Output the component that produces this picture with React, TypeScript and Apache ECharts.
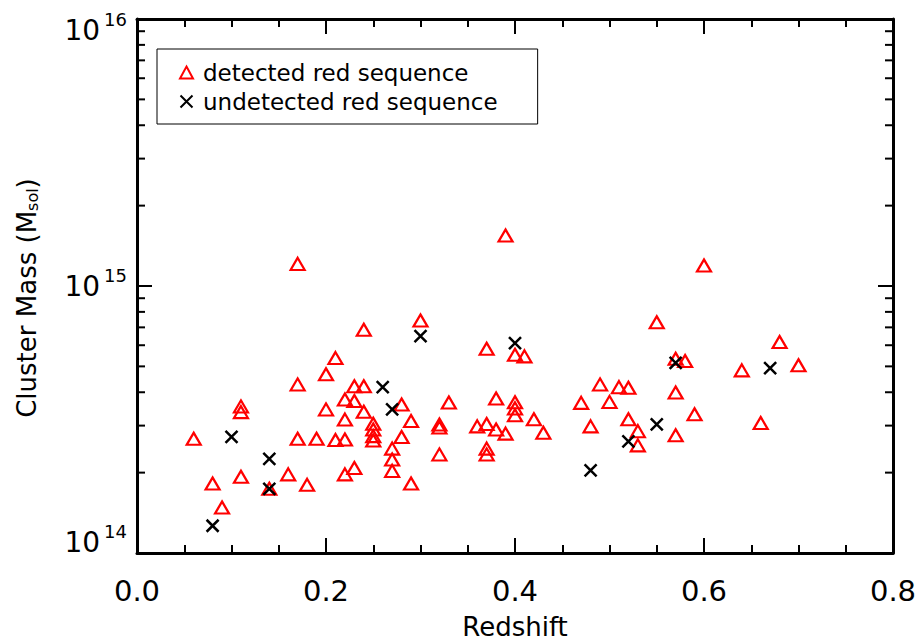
import React, { useEffect, useRef } from 'react';
import * as echarts from 'echarts';

// Redshift and cluster mass (Msol) — detected red sequence
const detectedZ = [
  0.06, 0.08, 0.09, 0.11, 0.11, 0.11, 0.17, 0.17, 0.17, 0.16,
  0.18, 0.14, 0.19, 0.20, 0.20, 0.21, 0.21, 0.22, 0.22, 0.22,
  0.22, 0.23, 0.23, 0.23, 0.24, 0.24, 0.24, 0.25, 0.25, 0.25,
  0.25, 0.39, 0.30, 0.37, 0.40, 0.41, 0.28, 0.33, 0.38, 0.40,
  0.40, 0.40, 0.29, 0.32, 0.32, 0.36, 0.37, 0.38, 0.39, 0.42,
  0.43, 0.28, 0.27, 0.27, 0.27, 0.29, 0.32, 0.37, 0.37, 0.60,
  0.55, 0.68, 0.70, 0.64, 0.57, 0.58, 0.49, 0.51, 0.52, 0.47,
  0.50, 0.57, 0.48, 0.52, 0.53, 0.53, 0.57, 0.59, 0.66,
];
const detectedMass = [
  2.68e14, 1.82e14, 1.48e14, 3.54e14, 3.37e14, 1.93e14, 1.21e15, 4.28e14, 2.68e14, 1.97e14,
  1.80e14, 1.74e14, 2.68e14, 4.67e14, 3.45e14, 5.37e14, 2.65e14, 3.76e14, 3.16e14, 2.66e14,
  1.97e14, 2.08e14, 4.21e14, 3.71e14, 6.86e14, 4.21e14, 3.38e14, 3.05e14, 2.90e14, 2.74e14,
  2.64e14, 1.545e15, 7.43e14, 5.82e14, 5.53e14, 5.45e14, 3.60e14, 3.66e14, 3.79e14, 3.67e14,
  3.48e14, 3.28e14, 3.12e14, 3.03e14, 2.95e14, 2.98e14, 3.04e14, 2.90e14, 2.80e14, 3.17e14,
  2.82e14, 2.72e14, 2.46e14, 2.24e14, 2.03e14, 1.82e14, 2.34e14, 2.46e14, 2.34e14, 1.193e15,
  7.32e14, 6.17e14, 5.05e14, 4.83e14, 5.34e14, 5.24e14, 4.28e14, 4.18e14, 4.16e14, 3.65e14,
  3.68e14, 3.99e14, 2.98e14, 3.17e14, 2.86e14, 2.53e14, 2.76e14, 3.31e14, 3.07e14,
];

// undetected red sequence
const undetectedZ = [0.08, 0.10, 0.14, 0.14, 0.26, 0.27, 0.30, 0.40, 0.48, 0.52, 0.55, 0.57, 0.67];
const undetectedMass = [
  1.265e14, 2.72e14, 2.25e14, 1.74e14, 4.18e14, 3.45e14, 6.49e14, 6.11e14, 2.04e14, 2.62e14,
  3.03e14, 5.15e14, 4.93e14,
];

// axis ticks
const xMin = 0.0;
const xMax = 0.8;
const xInterval = 0.2;
const yMin = 1e14;
const yMax = 1e16;
const yMinorTicks = [
  2e14, 3e14, 4e14, 5e14, 6e14, 7e14, 8e14, 9e14,
  2e15, 3e15, 4e15, 5e15, 6e15, 7e15, 8e15, 9e15,
];

const seriesNames = ['detected red sequence', 'undetected red sequence'];

const FONT = 'DejaVu Sans';
const BLACK = '#000000';
const RED = '#ff0000';
const XPATH = 'path://M0,0L10,10M0,10L10,0';

export default function App() {
  const ref = useRef<HTMLDivElement>(null);

  useEffect(() => {
    if (!ref.current) return;
    const chart = echarts.init(ref.current, null, { renderer: 'svg' });

    const detectedData = detectedZ.map((z, i) => [z, detectedMass[i]]);
    const undetectedData = undetectedZ.map((z, i) => [z, undetectedMass[i]]);
    const minorData = yMinorTicks.map((v) => [xMin, v]);

    const axisLine = { show: true, onZero: false, lineStyle: { color: BLACK, width: 3 } };

    const xCommon = {
      type: 'value',
      min: xMin,
      max: xMax,
      interval: xInterval,
      splitLine: { show: false },
      axisLine,
      axisTick: { show: true, inside: true, length: 15, lineStyle: { color: BLACK, width: 2 } },
      minorTick: { show: true, splitNumber: 4, length: 8, lineStyle: { color: BLACK, width: 2 } },
      minorSplitLine: { show: false },
    };

    const yCommon = {
      type: 'log',
      logBase: 10,
      min: yMin,
      max: yMax,
      interval: 1,
      splitLine: { show: false },
      axisLine,
      axisTick: { show: true, inside: true, length: 15, lineStyle: { color: BLACK, width: 2 } },
    };

    const option = {
      animation: false,
      backgroundColor: '#ffffff',
      grid: {
        left: 137,
        right: 27,
        top: 19,
        bottom: 90,
        containLabel: false,
        outerBoundsMode: 'none',
      },
      legend: {
        data: seriesNames,
        orient: 'vertical',
        left: 157,
        top: 49,
        padding: [12, 40, 11, 22],
        itemGap: 6,
        itemWidth: 13,
        itemHeight: 12,
        borderColor: BLACK,
        borderWidth: 1,
        borderRadius: 0,
        backgroundColor: '#ffffff',
        textStyle: { fontFamily: FONT, fontSize: 23, color: BLACK, padding: [0, 0, 0, 5] },
        selectedMode: false,
      },
      xAxis: [
        {
          ...xCommon,
          position: 'bottom',
          name: 'Redshift',
          nameLocation: 'middle',
          nameGap: 61,
          nameTextStyle: { fontFamily: FONT, fontSize: 26, color: BLACK },
          axisLabel: {
            show: true,
            margin: 23,
            fontFamily: FONT,
            fontSize: 29,
            color: BLACK,
            formatter: (v: number) => v.toFixed(1),
          },
        },
        {
          ...xCommon,
          position: 'top',
          axisLabel: { show: false },
        },
      ],
      yAxis: [
        {
          ...yCommon,
          position: 'left',
          name: 'Cluster Mass (M{sub|sol})',
          nameLocation: 'middle',
          nameGap: 97,
          nameRotate: 90,
          nameTextStyle: {
            fontFamily: FONT,
            fontSize: 26,
            color: BLACK,
            padding: [0, 24, 0, 0],
            rich: {
              sub: { fontFamily: FONT, fontSize: 16, color: BLACK, verticalAlign: 'bottom', padding: [9, 0, 0, 0] },
            },
          },
          axisLabel: {
            show: true,
            margin: 10,
            verticalAlignMinLabel: 'bottom',
            verticalAlignMaxLabel: 'top',
            formatter: (v: number) => {
              const e = Math.round(Math.log10(v));
              return `{b|10}{s|${e}}`;
            },
            rich: {
              b: { fontFamily: FONT, fontSize: 28, lineHeight: 22, color: BLACK },
              s: { fontFamily: FONT, fontSize: 18, lineHeight: 1, color: BLACK, padding: [0, 0, 21, 4] },
            },
          },
        },
        {
          ...yCommon,
          position: 'right',
          axisLabel: { show: false },
        },
      ],
      series: [
        {
          name: 'yminor',
          type: 'custom',
          xAxisIndex: 0,
          yAxisIndex: 0,
          silent: true,
          clip: false,
          data: minorData,
          renderItem: (params: any, api: any) => {
            const v = api.value(1);
            const pl = api.coord([xMin, v]);
            const pr = api.coord([xMax, v]);
            const style = { stroke: BLACK, lineWidth: 2 };
            return {
              type: 'group',
              children: [
                { type: 'line', shape: { x1: pl[0], y1: pl[1], x2: pl[0] + 8, y2: pl[1] }, style },
                { type: 'line', shape: { x1: pr[0], y1: pr[1], x2: pr[0] - 8, y2: pr[1] }, style },
              ],
            };
          },
          z: 3,
        },
        {
          name: seriesNames[0],
          type: 'scatter',
          xAxisIndex: 0,
          yAxisIndex: 0,
          symbol: 'triangle',
          symbolSize: [14, 12],
          itemStyle: { color: 'rgba(0,0,0,0)', borderColor: RED, borderWidth: 2.2, opacity: 1 },
          emphasis: { disabled: true },
          data: detectedData,
          z: 4,
        },
        {
          name: seriesNames[1],
          type: 'scatter',
          xAxisIndex: 0,
          yAxisIndex: 0,
          symbol: XPATH,
          symbolSize: 12,
          itemStyle: { color: 'rgba(0,0,0,0)', borderColor: BLACK, borderWidth: 2.5, opacity: 1 },
          emphasis: { disabled: true },
          data: undetectedData,
          z: 5,
        },
      ],
    };

    chart.setOption(option as any);
    return () => chart.dispose();
  }, []);

  return (
    <div
      ref={ref}
      style={{ position: 'fixed', left: 0, top: 0, width: 920, height: 643, background: '#ffffff' }}
    />
  );
}
